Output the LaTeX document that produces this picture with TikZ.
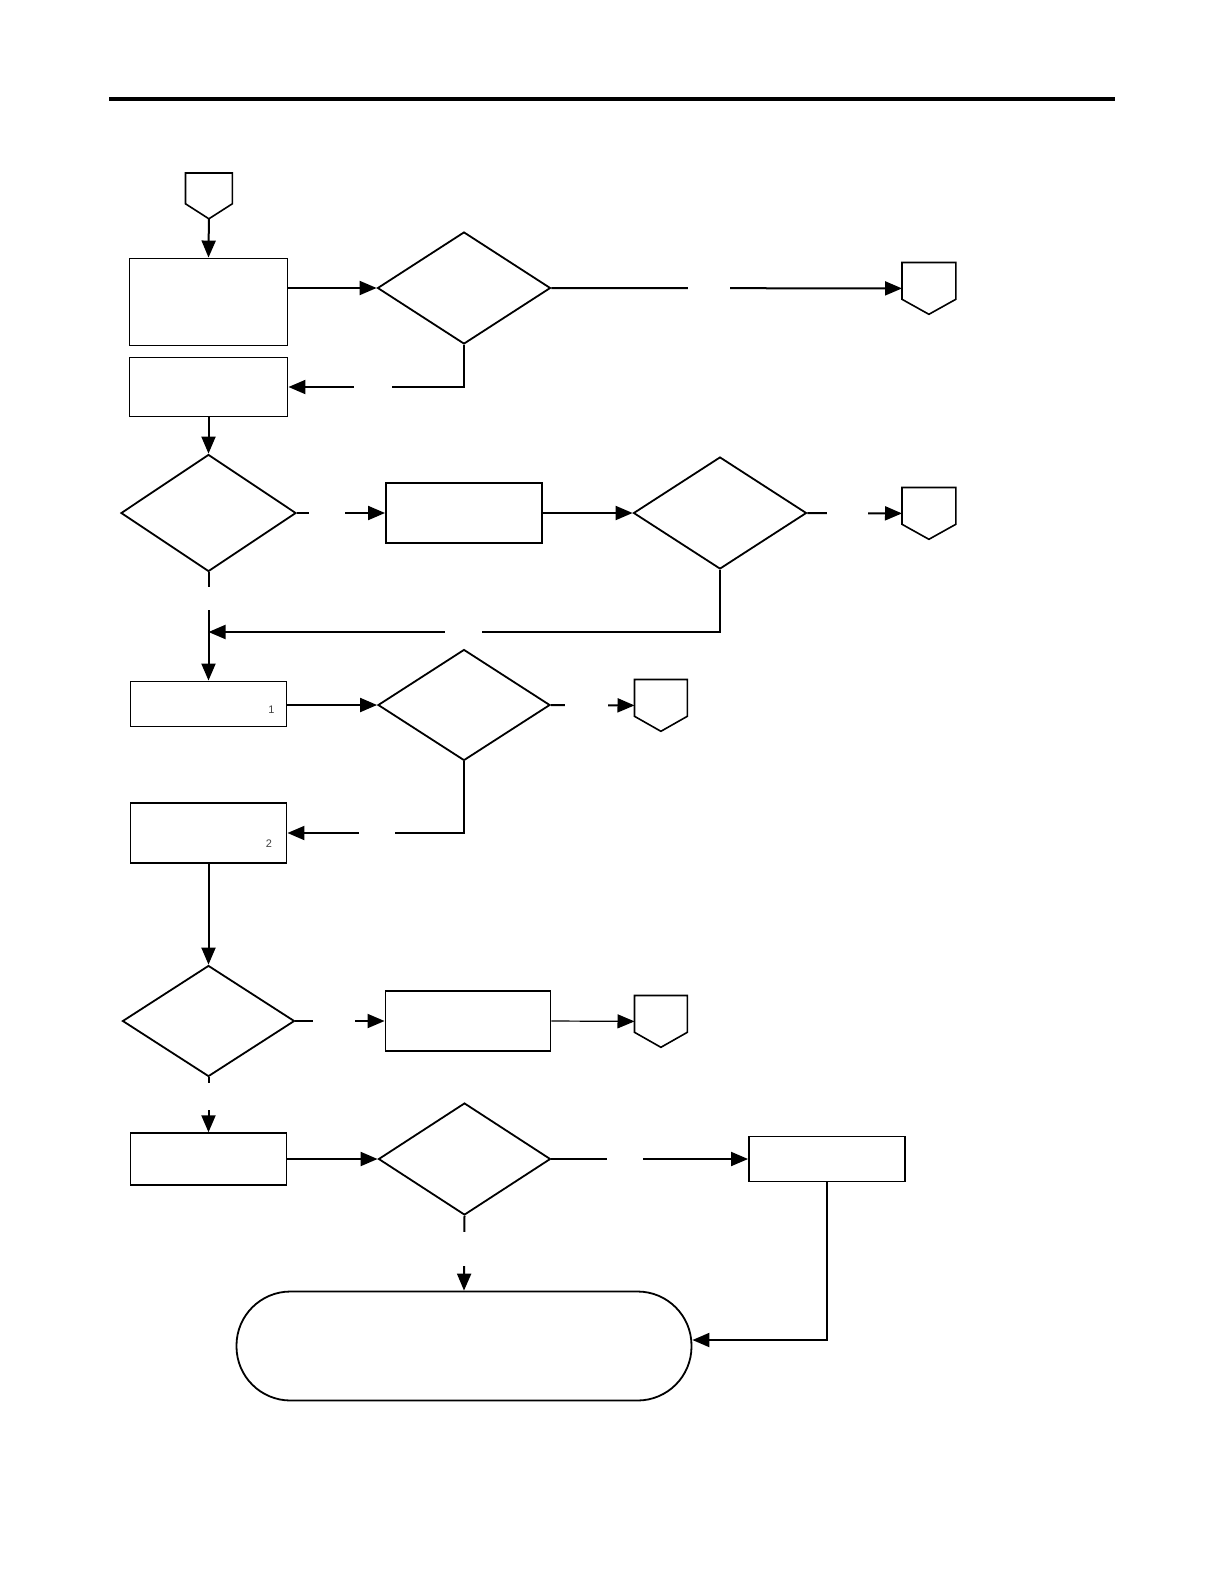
\documentclass[tikz,border=0pt]{standalone}
\usepackage{fontspec}
\setsansfont{Liberation Sans}
\usetikzlibrary{arrows.meta,shapes.geometric,calc}

% off-page connector: name, top-left corner, width, height
\newcommand{\offpage}[4]{%
	\node[anchor=north west, inner sep=0pt, minimum width=#3, minimum height=#4] (#1) at #2 {};
	\draw[pentline] (#1.north west) -- (#1.north east) -- ([yshift=7.5bp]#1.south east)
		-- (#1.south) -- ([yshift=7.5bp]#1.south west) -- cycle;
}

\begin{document}
\begin{tikzpicture}[
	x=0.5bp, y=-0.5bp,
	box/.style={rectangle, draw, line width=0.95bp, inner sep=0pt, minimum width=79bp},
	decision/.style={diamond, draw, line width=0.9bp, inner sep=0pt, minimum width=86.5bp, minimum height=56bp},
	terminal/.style={rectangle, draw, line width=0.9bp, rounded corners=27bp, minimum width=227.5bp, minimum height=54.5bp},
	pentline/.style={line width=0.8bp},
	arr/.style={-{Triangle[length=8.5bp,width=7bp]}, line width=1bp},
	hole/.style={fill=white, inner sep=0pt, minimum height=3bp},
	tag/.style={font=\sffamily\fontsize{5.5}{6}\selectfont, text=black!75, inner sep=0pt}
]
\useasboundingbox (0,0) rectangle (1224,1584);

% page rule
\coordinate (ruleL) at (109,99);
\coordinate (ruleR) at (1115,99);
\draw[line width=1.8bp] (ruleL) -- (ruleR);

\offpage{in1}{(185.5,173)}{23bp}{22.5bp}
\node[box, minimum height=43.5bp] (b1) at (208.5,302) {};
\node[box, minimum height=29.5bp] (b2) at (208.5,387) {};
\node[decision] (d1) at (464,288) {};
\offpage{p2}{(902,262.5)}{26.5bp}{25.5bp}

\node[decision, minimum width=87.5bp, minimum height=58.5bp] (d2) at (208.5,513) {};
\node[box, minimum width=78bp, minimum height=30bp] (b3) at (464,513) {};
\node[decision] (d3) at (720,513) {};
\offpage{p3}{(902,487.5)}{26.5bp}{25.5bp}
\coordinate (join) at (208.5,632);

\node[box, minimum width=78bp, minimum height=22.5bp] (b4) at (208.5,704) {};
\node[tag] (n1) at (271.5,710) {1};
\node[decision, minimum width=86bp, minimum height=55.5bp] (d4) at (464,705) {};
\offpage{p4}{(634.5,679.5)}{26bp}{25.5bp}
\node[box, minimum width=78bp, minimum height=29.75bp] (b5) at (208.5,833) {};
\node[tag] (n2) at (269,844) {2};

\node[decision, minimum width=86bp, minimum height=55.5bp] (d5) at (208.5,1021) {};
\node[box, minimum width=82.5bp, minimum height=30bp] (b6) at (468,1021) {};
\offpage{p5}{(634.5,995.5)}{26bp}{25.5bp}

\node[box, minimum width=78bp, minimum height=25.75bp] (b7) at (208.5,1159) {};
\node[decision, minimum width=86bp] (d6) at (464.5,1159) {};
\node[box, minimum width=78bp, minimum height=22.5bp] (b8) at (827,1159) {};
\node[terminal] (t1) at (464,1346) {};

\draw[arr] (in1.south) -- (b1.north);
\draw[arr] (b1.east |- d1.west) -- (d1.west);
\draw[arr] (d1.east) -- node[hole, pos=.449, minimum width=21bp]{} (p2.west);
\draw[arr] (d1.south) |- node[hole, pos=.759, minimum width=19bp]{} (b2.east);
\draw[arr] (b2.south) -- (d2.north);

\draw[arr] (d2.east) -- node[hole, pos=.344, minimum width=18bp]{} (b3.west);
\draw[arr] (b3.east) -- (d3.west);
\draw[arr] (d3.east) -- node[hole, pos=.426, minimum width=20.5bp]{} (p3.west);
\draw[arr] (d3.south) |- node[hole, pos=.751, minimum width=18.5bp]{} (join);
\draw[arr] (d2.south) -- node[hole, pos=.24, minimum height=11.5bp, minimum width=3bp]{} (b4.north);

\draw[arr] (b4.east |- d4.west) -- (d4.west);
\draw[arr] (d4.east) -- node[hole, pos=.42, minimum width=21.5bp]{} (p4.west);
\draw[arr] (d4.south) |- node[hole, pos=.746, minimum width=18bp]{} (b5.east);
\draw[arr] (b5.south) -- (d5.north);

\draw[arr] (d5.east) -- node[hole, pos=.43, minimum width=21bp]{} (b6.west);
\draw[arr, line width=0.6bp] (b6.east) -- (p5.west);
\draw[arr] (d5.south) -- node[hole, pos=.353, minimum height=13.3bp, minimum width=3bp]{} (b7.north);

\draw[arr] (b7.east) -- (d6.west);
\draw[arr] (d6.east) -- node[hole, pos=.374, minimum width=18bp]{} (b8.west);
\draw[arr] (d6.south) -- node[hole, pos=.443, minimum height=17bp, minimum width=3bp]{} (t1.north);
\draw[arr] (b8.south) |- ([yshift=3bp]t1.east);
\end{tikzpicture}
\end{document}
